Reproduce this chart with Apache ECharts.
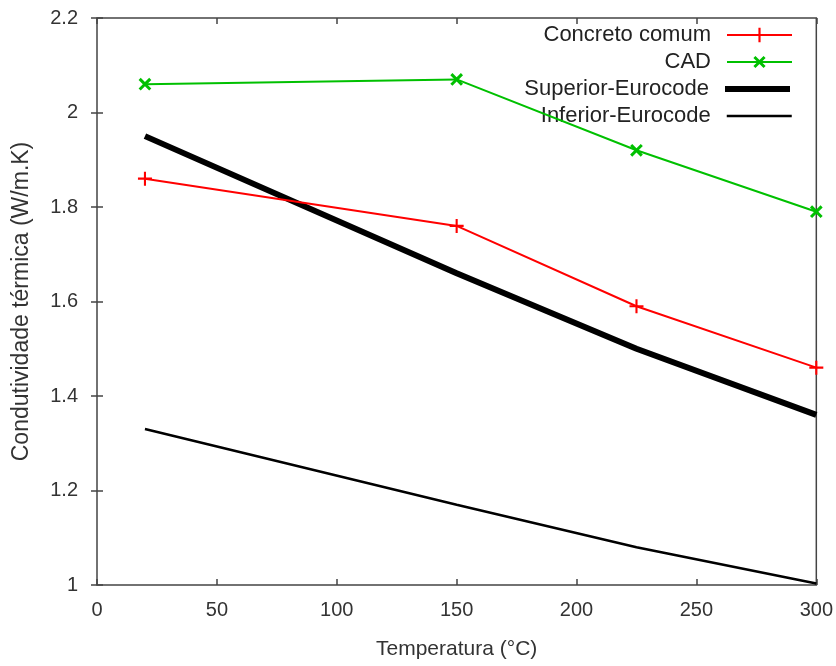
<!DOCTYPE html>
<html>
<head>
<meta charset="utf-8">
<script src="https://cdn.jsdelivr.net/npm/echarts@6/dist/echarts.min.js"></script>
<style>
  html, body { margin: 0; padding: 0; background: #fff; }
  #chart { width: 836px; height: 666px; }
</style>
</head>
<body>
<div id="chart"></div>
<script>
// Temperatures (°C) at which conductivity was evaluated
const temperatures = [20, 150, 225, 300];

// Thermal conductivity (W/m.K)
const concretoComum = [1.86, 1.76, 1.59, 1.46];
const cad = [2.06, 2.07, 1.92, 1.79];
const superiorEurocode = [1.95, 1.66, 1.50, 1.36];
const inferiorEurocode = [1.33, 1.17, 1.08, 1.003];

const seriesNames = ['Concreto comum', 'CAD', 'Superior-Eurocode', 'Inferior-Eurocode'];

const pairs = vals => temperatures.map((t, i) => [t, vals[i]]);

const FONT = '"Liberation Sans", Arial, sans-serif';
const TEXT = '#333';
const FRAME = '#444';

const plusPath = 'path://M-1.2,-8H1.2V-1.2H8V1.2H1.2V8H-1.2V1.2H-8V-1.2H-1.2Z';
const crossPath = 'path://M-1.6,-8H1.6V-1.6H8V1.6H1.6V8H-1.6V1.6H-8V-1.6H-1.6Z';

const chart = echarts.init(document.getElementById('chart'), null, { renderer: 'canvas' });

// One legend block per row so every sample line ends at the same right edge
const legendRow = (name, top, lineWidth, hideSymbol) => ({
  data: [name],
  orient: 'vertical',
  right: 38,
  top: top,
  align: 'right',
  itemWidth: 65,
  itemHeight: 18,
  selectedMode: false,
  lineStyle: { width: lineWidth },
  itemStyle: hideSymbol ? { opacity: 0 } : {},
  textStyle: { fontFamily: FONT, fontSize: 22, color: '#222', padding: [0, 11, 0, 0] }
});

const option = {
  animation: false,
  backgroundColor: '#fff',
  grid: {
    left: 97, right: 17, top: 18, bottom: 81,
    show: true, borderColor: FRAME, borderWidth: 1.5, backgroundColor: 'transparent'
  },
  legend: [
    legendRow(seriesNames[0], 19, 2, false),
    legendRow(seriesNames[1], 46, 2, false),
    legendRow(seriesNames[2], 73, 6, true),
    legendRow(seriesNames[3], 100, 2.5, true)
  ],
  xAxis: [
    {
      type: 'value', min: 0, max: 300, interval: 50,
      name: 'Temperatura (°C)', nameLocation: 'middle', nameGap: 54,
      nameTextStyle: { fontFamily: FONT, fontSize: 21, color: TEXT },
      axisLine: { show: false },
      axisTick: { show: true, inside: true, length: 6, lineStyle: { color: FRAME, width: 1.5 } },
      axisLabel: { fontFamily: FONT, fontSize: 20, color: TEXT, margin: 15 },
      splitLine: { show: false }
    },
    {
      type: 'value', min: 0, max: 300, interval: 50, position: 'top',
      axisLine: { show: false },
      axisTick: { show: true, inside: true, length: 6, lineStyle: { color: FRAME, width: 1.5 } },
      axisLabel: { show: false },
      splitLine: { show: false }
    }
  ],
  yAxis: [
    {
      type: 'value', min: 1, max: 2.2, interval: 0.2,
      name: 'Condutividade térmica (W/m.K)', nameLocation: 'middle', nameGap: 64,
      nameTextStyle: { fontFamily: FONT, fontSize: 23, color: TEXT },
      axisLine: { show: false },
      axisTick: { show: true, inside: true, length: 6, lineStyle: { color: FRAME, width: 1.5 } },
      axisLabel: {
        fontFamily: FONT, fontSize: 20, color: TEXT, margin: 19,
        formatter: v => String(Math.round(v * 10) / 10)
      },
      splitLine: { show: false }
    },
    {
      type: 'value', min: 1, max: 2.2, interval: 0.2, position: 'right',
      axisLine: { show: false },
      axisTick: { show: true, inside: true, length: 6, lineStyle: { color: FRAME, width: 1.5 } },
      axisLabel: { show: false },
      splitLine: { show: false }
    }
  ],
  series: [
    {
      name: seriesNames[0], type: 'line', data: pairs(concretoComum),
      color: '#ff0000',
      lineStyle: { color: '#ff0000', width: 2 },
      symbol: plusPath, symbolSize: 14, showAllSymbol: true,
      itemStyle: { color: '#ff0000' }, z: 4
    },
    {
      name: seriesNames[1], type: 'line', data: pairs(cad),
      color: '#00c000',
      lineStyle: { color: '#00c000', width: 2 },
      symbol: crossPath, symbolSize: 15, symbolRotate: 45, showAllSymbol: true,
      itemStyle: { color: '#00c000' }, z: 4
    },
    {
      name: seriesNames[2], type: 'line', data: pairs(superiorEurocode),
      color: '#000',
      lineStyle: { color: '#000', width: 6 },
      symbol: 'none', itemStyle: { color: '#000' }, z: 3
    },
    {
      name: seriesNames[3], type: 'line', data: pairs(inferiorEurocode),
      color: '#000',
      lineStyle: { color: '#000', width: 2.5 },
      symbol: 'none', itemStyle: { color: '#000' }, z: 3
    }
  ]
};

chart.setOption(option);
</script>
</body>
</html>
